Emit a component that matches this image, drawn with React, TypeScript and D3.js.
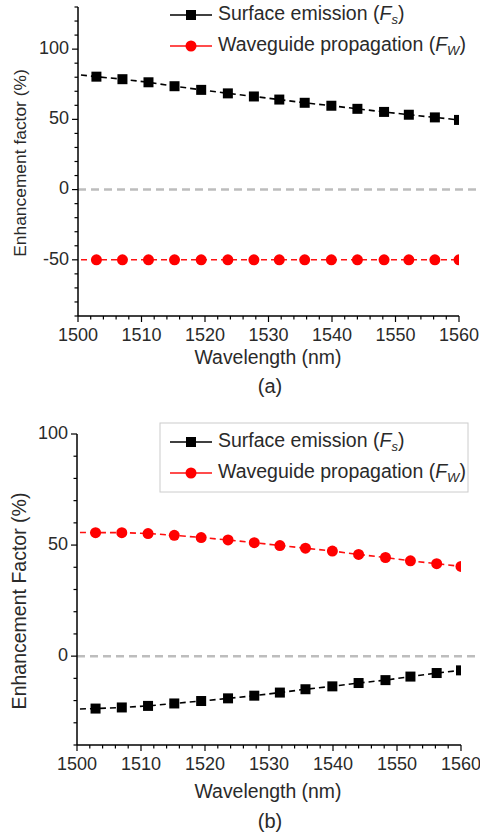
import React from "react";
import * as d3 from "d3";

const wavelengths = [1498.9, 1502.9, 1507.0, 1511.1, 1515.2, 1519.4, 1523.6, 1527.7, 1531.7, 1535.7, 1539.9, 1544.0, 1548.2, 1552.1, 1556.2, 1560.0];
const fsA = [82.3, 80.4, 78.6, 76.4, 73.6, 71.0, 68.5, 66.3, 64.1, 61.8, 59.7, 57.5, 55.3, 53.3, 51.4, 49.6];
const fwA = [-50, -50, -50, -50, -50, -50, -50, -50, -50, -50, -50, -50, -50, -50, -50, -50];
const fsB = [-23.9, -23.6, -23.1, -22.4, -21.3, -20.2, -19.0, -17.8, -16.4, -14.9, -13.6, -12.1, -10.8, -9.2, -7.6, -6.4];
const fwB = [55.7, 55.6, 55.6, 55.2, 54.4, 53.4, 52.3, 51.1, 49.8, 48.6, 47.3, 45.8, 44.4, 42.9, 41.6, 40.4];
const xTicks = [1500, 1510, 1520, 1530, 1540, 1550, 1560];
const yTicksA = [-50, 0, 50, 100];
const yTicksB = [0, 50, 100];

const FONT = "'Liberation Sans', Arial, sans-serif";
const TXT = "#2a2a2a";

type PanelProps = {
  id: string;
  left: number; right: number; top: number; bottom: number;
  yDomain: [number, number];
  yTicks: number[];
  fs: number[]; fw: number[];
  ylabel: string; letter: string;
  ylabelSize: number; ylabelY: number;
  titleDy: number; letterDy: number;
  legendY: number;
  boxRect?: [number, number, number, number];
};

function LegendText({ x, y, label, sub }: { x: number; y: number; label: string; sub: string }) {
  return (
    <text x={x} y={y} fontSize={19.5} fontFamily={FONT} fill={TXT} dominantBaseline="middle">
      {label} (<tspan fontStyle="italic">F</tspan>
      <tspan fontStyle="italic" fontSize={13} dy={6}>{sub}</tspan>
      <tspan dy={-6}>)</tspan>
    </text>
  );
}

function Panel(p: PanelProps) {
  const x = d3.scaleLinear().domain([1500, 1560]).range([p.left, p.right]);
  const y = d3.scaleLinear().domain(p.yDomain).range([p.bottom, p.top]);
  const line = d3.line<number>().x((_, i) => x(wavelengths[i])).y((d) => y(d));
  const minorX = d3.range(1500, 1560.01, 2);
  const minorY = d3.range(p.yDomain[0], p.yDomain[1] + 0.01, 10);
  const clipId = "clip-" + p.id;
  const lx0 = 170, lx1 = 212, lm = 191;
  return (
    <g>
      <defs>
        <clipPath id={clipId}>
          <rect x={p.left} y={p.top - 8} width={p.right - p.left} height={p.bottom - p.top + 8} />
        </clipPath>
      </defs>
      <line x1={p.left} x2={480} y1={y(0)} y2={y(0)} stroke="#bdbdbd" strokeWidth={2.5} strokeDasharray="8,5" />
      <g clipPath={`url(#${clipId})`}>
        <path d={line(p.fw) || ""} fill="none" stroke="#ff1010" strokeWidth={1.6} strokeDasharray="6,4" />
        {p.fw.map((v, i) => (
          <circle key={"c" + i} cx={x(wavelengths[i])} cy={y(v)} r={5.5} fill="#ff0000" />
        ))}
        <path d={line(p.fs) || ""} fill="none" stroke="#000" strokeWidth={1.6} strokeDasharray="6,4" />
        {p.fs.map((v, i) => (
          <rect key={"s" + i} x={x(wavelengths[i]) - 5} y={y(v) - 5} width={10} height={10} fill="#000" />
        ))}
      </g>
      <line x1={p.left} x2={p.left} y1={p.top} y2={p.bottom} stroke="#000" strokeWidth={1.5} />
      <line x1={p.left} x2={p.right} y1={p.bottom} y2={p.bottom} stroke="#000" strokeWidth={1.5} />
      {minorX.map((t) => {
        const major = xTicks.includes(Math.round(t));
        return <line key={"xt" + t} x1={x(t)} x2={x(t)} y1={p.bottom} y2={p.bottom + (major ? 6 : 3.5)} stroke="#000" strokeWidth={1.2} />;
      })}
      {minorY.map((t) => {
        const major = p.yTicks.includes(Math.round(t));
        return <line key={"yt" + t} x1={p.left - (major ? 6 : 3.5)} x2={p.left} y1={y(t)} y2={y(t)} stroke="#000" strokeWidth={1.2} />;
      })}
      {xTicks.map((t) => (
        <text key={"xl" + t} x={x(t)} y={p.bottom + 20} textAnchor="middle" dominantBaseline="middle" fontSize={18} fontFamily={FONT} fill={TXT}>{t}</text>
      ))}
      {p.yTicks.map((t) => (
        <text key={"yl" + t} x={p.left - 9} y={y(t)} textAnchor="end" dominantBaseline="middle" fontSize={18} fontFamily={FONT} fill={TXT}>{t}</text>
      ))}
      <text x={268} y={p.bottom + p.titleDy} textAnchor="middle" dominantBaseline="middle" fontSize={19.4} fontFamily={FONT} fill={TXT}>Wavelength (nm)</text>
      <text x={270} y={p.bottom + p.letterDy} textAnchor="middle" dominantBaseline="middle" fontSize={20} fontFamily={FONT} fill={TXT}>{p.letter}</text>
      <text transform={`translate(21,${p.ylabelY}) rotate(-90)`} textAnchor="middle" dominantBaseline="middle" fontSize={p.ylabelSize} fontFamily={FONT} fill={TXT}>{p.ylabel}</text>
      {p.boxRect && (
        <rect x={p.boxRect[0]} y={p.boxRect[1]} width={p.boxRect[2]} height={p.boxRect[3]} fill="#fff" stroke="#ccc" strokeWidth={1} />
      )}
      <line x1={lx0} x2={lx1} y1={p.legendY} y2={p.legendY} stroke="#000" strokeWidth={1.6} />
      <rect x={lm - 5} y={p.legendY - 5} width={10} height={10} fill="#000" />
      <LegendText x={218} y={p.legendY} label="Surface emission" sub="s" />
      <line x1={lx0} x2={lx1} y1={p.legendY + 31} y2={p.legendY + 31} stroke="#ff1010" strokeWidth={1.6} />
      <circle cx={lm} cy={p.legendY + 31} r={5.5} fill="#ff0000" />
      <LegendText x={218} y={p.legendY + 31} label="Waveguide propagation" sub="W" />
    </g>
  );
}

export default function App() {
  return (
    <div style={{ position: "absolute", left: 0, top: 0 }}>
      <svg width={480} height={834} style={{ display: "block", background: "#fff" }}>
        <Panel id="a" left={78} right={459} top={7} bottom={316} yDomain={[-90, 130]} yTicks={yTicksA}
          fs={fsA} fw={fwA} ylabel="Enhancement factor (%)" letter="(a)" ylabelSize={17.4} ylabelY={163}
          titleDy={43} letterDy={72} legendY={15} />
        <Panel id="b" left={77} right={461} top={434} bottom={745} yDomain={[-40, 100]} yTicks={yTicksB}
          fs={fsB} fw={fwB} ylabel="Enhancement Factor (%)" letter="(b)" ylabelSize={19.5} ylabelY={601}
          titleDy={48} letterDy={78} legendY={442} boxRect={[160, 423, 308, 69]} />
      </svg>
    </div>
  );
}
